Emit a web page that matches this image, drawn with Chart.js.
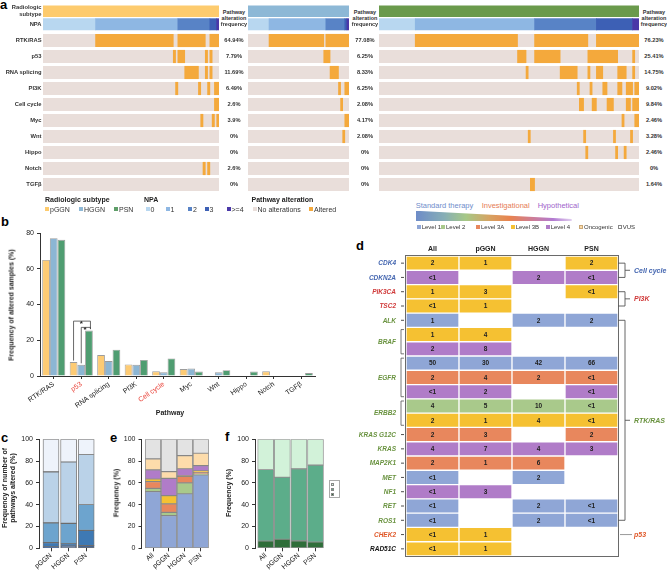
<!DOCTYPE html>
<html><head><meta charset="utf-8">
<script src="https://cdn.jsdelivr.net/npm/chart.js@4.4.1/dist/chart.umd.min.js"></script>
<style>
html,body{margin:0;padding:0;background:#fff}
body{width:667px;height:570px;position:relative;overflow:hidden;font-family:'Liberation Sans',Arial,Helvetica,sans-serif;color:#222}
canvas{position:absolute}
.t{position:absolute;white-space:nowrap;line-height:1}
.sq{position:absolute;box-sizing:border-box}
</style></head><body>
<script>
// ================= DATA =================
const pathways = ['RTK/RAS','p53','RNA splicing','PI3K','Cell cycle','Myc','Wnt','Hippo','Notch','TGFβ'];
const redPathways = ['p53','Cell cycle'];
const groups = ['pGGN','HGGN','PSN'];
const groupSize = [77,48,122];
// pathway alteration frequency (%)
const freqPGGN = [64.94,7.79,11.69,6.49,2.6,3.9,0,0,2.6,0];
const freqHGGN = [77.08,6.25,8.33,6.25,2.08,4.17,2.08,0,0,0];
const freqPSN  = [76.23,25.41,14.75,9.02,9.84,2.46,3.28,2.46,0,1.64];
// number of pathways altered (NPA) counts: 0,1,2,3,>=4
const npaLevels = ['0','1','2','3','>=4'];
const npaPGGN = [23,36,14,3,1];
const npaHGGN = [10,27,9,1,1];
const npaPSN  = [17,56,29,17,3];
// altered samples, runs [from,to) in oncoprint sample order, one list per pathway
const altPGGN = [
  [[23,57],[59,71],[73,77]],
  [[57,58],[59,62],[71,72],[73,74]],
  [[62,68],[71,72],[73,74]],
  [[58,59],[68,69],[72,73],[75,77]],
  [[75,77]],
  [[69,70],[74,75],[76,77]],
  [], [],
  [[70,71],[72,73]],
  []
];
const altHGGN = [
  [[10,36],[37,48]],
  [[36,39]],
  [[39,43]],
  [[43,44],[46,48]],
  [[44,45]],
  [[46,48]],
  [[45,46]],
  [], [], []
];
const altPSN = [
  [[17,65],[73,98],[102,122]],
  [[65,69],[73,85],[98,112],[119,120]],
  [[69,70],[85,93],[98,99],[102,105],[112,116],[119,120]],
  [[93,94],[99,100],[105,107],[112,114],[116,119],[120,122]],
  [[94,96],[100,102],[107,110],[116,118],[119,122]],
  [[114,115],[120,122]],
  [[70,71],[96,97],[110,111],[118,119]],
  [[97,98],[111,112],[115,116]],
  [],
  [[71,73]]
];
// significance brackets on p53: [groupA, groupB, bracket height %]
const sigCategory = 'p53';
const sigPairs = [[0,2,30.7],[1,2,27.2]];
// panel e: highest OncoKB level per sample (%)
const eCats = ['All','pGGN','HGGN','PSN'];
const eLevels = ['Level 1','Level 2','Level 3A','Level 3B','Level 4','Oncogenic','VUS'];
const eLevel1 = [52,30,50,67.3];
const eLevel2 = [3,3,10,0.9];
const eLevel3A = [6.2,7.7,6,1.5];
const eLevel3B = [2.4,7.6,0.5,1.3];
const eLevel4 = [8.3,15.9,6.5,4.8];
const eOncogenic = [10.1,6.1,12,11.4];
const eVUS = [18,29.7,15,12.8];
// panel f
const fCats = ['All','pGGN','HGGN','PSN'];
const fLow = [6.7,8.3,6.8,5.8];
const fMid = [65.6,56.9,66.1,70.5];
const fHigh = [27.7,34.8,27.1,23.7];
// panel d
const dCols = ['All','pGGN','HGGN','PSN'];
const dGene = ['CDK4','CDKN2A','PIK3CA','TSC2','ALK','BRAF','BRAF','EGFR','EGFR','EGFR','ERBB2','ERBB2','KRAS G12C','KRAS','MAP2K1','MET','NF1','RET','ROS1','CHEK2','RAD51C'];
const dPathway = ['Cell cycle','Cell cycle','PI3K','PI3K','RTK/RAS','RTK/RAS','RTK/RAS','RTK/RAS','RTK/RAS','RTK/RAS','RTK/RAS','RTK/RAS','RTK/RAS','RTK/RAS','RTK/RAS','RTK/RAS','RTK/RAS','RTK/RAS','RTK/RAS','p53',''];
const dLevel = ['3B','4','3B','3B','1','3B','4','1','3A','4','2','3B','3A','4','3A','1','4','1','1','3B','3B'];
const dAll  = ['2','<1','1','<1','1','1','2','50','2','<1','4','2','2','4','2','<1','<1','<1','<1','<1','<1'];
const dPGGN = ['1','','3','1','','4','8','30','4','2','5','1','3','7','1','','3','','','1','1'];
const dHGGN = ['','2','','','2','','','42','2','','10','4','','4','6','2','','2','2','',''];
const dPSN  = ['2','<1','<1','','2','','','66','<1','<1','<1','<1','2','3','','','','<1','<1','',''];

// ================= STYLE =================
const FONT = "'Liberation Sans', Arial, Helvetica, sans-serif";
const COL = {
  sub:['#FDCB6E','#8DB8D6','#6A9A4C'],
  subLeg:['#FDCB6E','#8DB8D6','#5E9E68'],
  npa:['#B8D7F0','#8EB7E3','#5883C6','#3D60B5','#4A38A8'],
  alt:'#F4A93C', none:'#E9DEDA',
  b:['#FDCB74','#8CB6D4','#4F9D71'],
  c:['#2B5390','#3E79B4','#6DA4CE','#BAD2E8','#EEF3FB'],
  lv:{'1':'#8FA6D6','2':'#A9C98B','3A':'#E8875D','3B':'#F5C132','4':'#B07CC8'},
  onc:'#FDDCAB', vus:'#E3E3E3',
  f:['#2F6E3A','#5CAD8A','#D2F2D9'],
  gene:{'Cell cycle':'#4466B0','PI3K':'#D03A3A','RTK/RAS':'#6A9340','p53':'#E05A2B','':'#111'}
};
Chart.defaults.font.family = FONT;
Chart.defaults.font.size = 7;
Chart.defaults.color = '#222';
Chart.defaults.animation = false;
Chart.defaults.responsive = false;
Chart.defaults.events = [];
Chart.defaults.plugins.legend.display = false;
Chart.defaults.plugins.tooltip.enabled = false;

function mkCanvas(x,y,w,h){const c=document.createElement('canvas');c.width=w;c.height=h;
  Object.assign(c.style,{left:x+'px',top:y+'px',width:w+'px',height:h+'px'});document.body.appendChild(c);return c;}
function T(txt,x,y,o={}){const d=document.createElement('div');d.className='t';d.textContent=txt;const s=d.style;
  s.left=x+'px';s.top=y+'px';s.fontSize=(o.s||7)+'px';if(o.b)s.fontWeight=o.b;if(o.c)s.color=o.c;if(o.i)s.fontStyle='italic';
  const ax=o.a==='r'?'-100%':o.a==='c'?'-50%':'0';
  s.transform=o.rot?`translate(-50%,-50%) rotate(${o.rot}deg)`:`translate(${ax},-50%)`;
  if(o.rot)s.textAlign='center';
  document.body.appendChild(d);return d;}
function S(x,y,w,h,col,border){const d=document.createElement('div');d.className='sq';
  Object.assign(d.style,{left:x+'px',top:y+'px',width:w+'px',height:h+'px',background:col,border:border?('0.7px solid '+border):'none'});
  document.body.appendChild(d);return d;}

// ================= PANEL LABELS =================
[['a',0,4],['b',1,221],['c',1,437],['d',356,245],['e',110,437],['f',225,436]].forEach(p=>T(p[0],p[1],p[2],{s:13,b:'bold',c:'#000'}));

// ================= PANEL A: oncoprints =================
const ROW_PX=16, FIRST_ROW=40.5, ONC_H=200;
const SUB_Y = 2-(FIRST_ROW-11.3)/ROW_PX, NPA_Y = 2-(FIRST_ROW-24.3)/ROW_PX;
const yMinOnc = 2-FIRST_ROW/ROW_PX, yMaxOnc = yMinOnc+ONC_H/ROW_PX;
function oncoprint(left,width,n,subColor,npaCounts,altRuns){
  const alt=[];altRuns.forEach((runs,i)=>runs.forEach(r=>alt.push({x:[r[0],r[1]],y:i+2})));
  const bg=pathways.map((_,i)=>({x:[0,n],y:i+2}));
  const npa=[],npaCol=[];let c=0;
  npaCounts.forEach((k,j)=>{if(k>0){npa.push({x:[c,c+k],y:NPA_Y});npaCol.push(COL.npa[j]);}c+=k;});
  new Chart(mkCanvas(left,0,width,ONC_H),{type:'bar',
    data:{datasets:[
      {data:alt,backgroundColor:COL.alt,maxBarThickness:12.5},
      {data:bg,backgroundColor:COL.none,maxBarThickness:12.5},
      {data:npa,backgroundColor:npaCol,maxBarThickness:11.3},
      {data:[{x:[0,n],y:SUB_Y}],backgroundColor:subColor,maxBarThickness:10.7}
    ]},
    options:{indexAxis:'y',layout:{padding:0},
      datasets:{bar:{grouped:false,borderWidth:0,barPercentage:1,categoryPercentage:1}},
      scales:{x:{type:'linear',min:0,max:n,display:false,offset:false},
        y:{type:'linear',min:yMinOnc,max:yMaxOnc,reverse:true,display:false,offset:false,bounds:'data',ticks:{maxTicksLimit:3}}}}});
}
oncoprint(43,176,groupSize[0],COL.sub[0],npaPGGN,altPGGN);
oncoprint(248,101,groupSize[1],COL.sub[1],npaHGGN,altHGGN);
oncoprint(379,260,groupSize[2],COL.sub[2],npaPSN,altPSN);
// row labels
const RL={a:'r',s:5.8,b:'bold',c:'#333'};
T('Radiologic',41.5,7.5,RL);
T('subtype',41.5,14.5,RL);
T('NPA',41.5,24.5,RL);
pathways.forEach((p,i)=>T(p,41.5,FIRST_ROW+ROW_PX*i,RL));
// frequency columns
[[234,freqPGGN],[365,freqHGGN],[654,freqPSN]].forEach(([x,f])=>{
  ['Pathway','alteration','frequency'].forEach((w,k)=>T(w,x,12.7+6*k,{a:'c',s:5.5,b:'bold',c:'#333'}));
  f.forEach((v,i)=>T(v+'%',x,FIRST_ROW+ROW_PX*i,{a:'c',s:5.7,b:'bold',c:'#333'}));
});
// legend a
T('Radiologic subtype',45,198.5,{s:7,b:'bold',c:'#222'});
T('NPA',144,198.5,{s:7,b:'bold',c:'#222'});
T('Pathway alteration',251.5,198.5,{s:7,b:'bold',c:'#222'});
function legItem(x,y,col,label,size,border){S(x,y-2,4,4,col,border);T(label,x+5,y,{s:size||7,c:'#333'});}
[[45,0],[79,1],[114,2]].forEach(([x,i])=>legItem(x,209,COL.subLeg[i],groups[i]));
[[145.5,0],[165.5,1],[188,2],[204.5,3],[226.5,4]].forEach(([x,i])=>legItem(x,209,COL.npa[i],npaLevels[i]));
legItem(252.5,209,COL.none,'No alterations');
legItem(309,209,COL.alt,'Altered');

// ================= PANEL B =================
const bFreq=[freqPGGN,freqHGGN,freqPSN];
const sigPlugin={id:'sig',afterDatasetsDraw(chart){
  const ctx=chart.ctx,y=chart.scales.y,ci=pathways.indexOf(sigCategory);
  ctx.save();ctx.strokeStyle='#444';ctx.lineWidth=0.8;ctx.fillStyle='#222';
  ctx.font="bold 8px "+FONT;ctx.textAlign='center';ctx.textBaseline='alphabetic';
  sigPairs.forEach(([g1,g2,h])=>{
    const a=chart.getDatasetMeta(g1).data[ci],b=chart.getDatasetMeta(g2).data[ci];
    const top=y.getPixelForValue(h);
    ctx.beginPath();ctx.moveTo(a.x,a.y-1.5);ctx.lineTo(a.x,top);ctx.lineTo(b.x+1.5,top);ctx.lineTo(b.x+1.5,b.y-1.5);ctx.stroke();
    ctx.fillText('*',(a.x+b.x)/2,top+4.5);
  });
  ctx.restore();}};
new Chart(mkCanvas(0,225,330,200),{type:'bar',
  data:{labels:pathways,datasets:groups.map((g,i)=>({label:g,data:bFreq[i],backgroundColor:COL.b[i],
    borderColor:'rgba(90,90,90,0.6)',borderWidth:0.9,categoryPercentage:0.84,barPercentage:1}))},
  options:{layout:{padding:{top:8,right:15,left:0,bottom:0}},
    scales:{
      x:{grid:{drawOnChartArea:false,offset:false,tickLength:3,color:'#333'},border:{color:'#333'},
        ticks:{font:{size:7},maxRotation:35,minRotation:35,padding:1,autoSkip:false,
          color:(c)=>redPathways.includes(pathways[c.index])?'#E8392F':'#222'},
        afterFit:s=>{s.height=49;}},
      y:{min:0,max:80,ticks:{stepSize:20,font:{size:7},padding:3},grid:{drawOnChartArea:false,tickLength:3,color:'#333'},
        border:{color:'#333'},afterFit:s=>{s.width=40;}}}},
  plugins:[sigPlugin]});
T('Frequency of altered samples (%)',11,305,{rot:-90,s:7,b:600,c:'#222'});
T('Pathway',170,412,{a:'c',s:7,b:600,c:'#222'});

// ================= PANELS C, E, F =================
function stackChart(cx,cy,w,h,yW,padR,c1,sp,barPx,cats,series,colors,border){
  const L=cx+yW,R=cx+w-padR;const xmin=1-(c1-L)/sp,xmax=xmin+(R-L)/sp;
  new Chart(mkCanvas(cx,cy,w,h),{type:'bar',
    data:{datasets:series.map((s,k)=>({data:s.map((v,i)=>({x:i+1,y:v})),backgroundColor:colors[k],
      borderColor:border,borderWidth:0.9,borderSkipped:false,barThickness:barPx}))},
    options:{layout:{padding:{top:9.3,right:padR,left:0,bottom:0}},
      scales:{
        x:{type:'linear',stacked:true,min:xmin,max:xmax,bounds:'data',offset:false,
          afterBuildTicks:s=>{s.ticks=cats.map((_,i)=>({value:i+1}));},
          ticks:{callback:(v,i)=>cats[i],maxRotation:40,minRotation:40,autoSkip:false,padding:0,font:{size:7}},
          grid:{drawOnChartArea:false,offset:false,tickLength:3,color:'#333'},border:{display:false},afterFit:s=>{s.height=21.7;}},
        y:{stacked:true,min:0,max:100,ticks:{stepSize:20,font:{size:7},padding:3},
          grid:{drawOnChartArea:false,tickLength:3,color:'#333'},border:{color:'#333'},afterFit:s=>{s.width=yW;}}}}});
}
// c: NPA distribution (%) from counts, stacked >=4 at bottom ... 0 on top
const npaAll=[npaPGGN,npaHGGN,npaPSN];
const cSeries=[4,3,2,1,0].map(l=>npaAll.map((cnt,g)=>cnt[l]/groupSize[g]*100));
stackChart(0,430,100,140,39,4,51,17.6,16,groups,cSeries,COL.c,'rgba(95,95,95,0.85)');
T('Frequency of number of',4,488,{rot:-90,s:7,b:600,c:'#222'});
T('pathways altered (%)',11.5,488,{rot:-90,s:7,b:600,c:'#222'});
// e
stackChart(100,430,120,140,41.5,8,153,15.95,15.5,eCats,
  [eLevel1,eLevel2,eLevel3A,eLevel3B,eLevel4,eOncogenic,eVUS],
  [COL.lv['1'],COL.lv['2'],COL.lv['3A'],COL.lv['3B'],COL.lv['4'],COL.onc,COL.vus],'rgba(120,120,120,0.8)');
T('Frequency (%)',116,493,{rot:-90,s:7,b:600,c:'#222'});
// f
stackChart(215,430,115,140,40,5,265.7,16.6,16,fCats,[fLow,fMid,fHigh],COL.f,'rgba(120,120,120,0.8)');
T('Frequency (%)',228,493,{rot:-90,s:7,b:600,c:'#222'});
// f legend (tiny)
S(329,480,11,18,'#fff','#aaa');
S(331,483,2.5,2.5,COL.f[2],'#888');S(331,488,2.5,2.5,COL.f[1],'#888');S(331,493,2.5,2.5,COL.f[0],'#888');

// ================= PANEL D =================
const dColsData=[dAll,dPGGN,dHGGN,dPSN];
const dCells=[];
dGene.forEach((g,r)=>dColsData.forEach((col,c)=>{if(col[r]!=='')dCells.push({x:[c,c+1],y:r,t:col[r],lv:dLevel[r]});}));
function runs(arr){const out=[];arr.forEach((v,i)=>{if(out.length&&out[out.length-1].v===v)out[out.length-1].e=i;else out.push({v,s:i,e:i});});return out;}
const dPlugin={id:'dtab',afterDatasetsDraw(chart){
  const {ctx,chartArea:a,scales:{x,y}}=chart;ctx.save();
  ctx.strokeStyle='#6a6a6a';ctx.lineWidth=1;ctx.strokeRect(Math.round(a.left)-0.5,Math.round(a.top)-0.5,Math.round(a.right-a.left)+1,Math.round(a.bottom-a.top)+1);
  ctx.fillStyle='#222';ctx.textAlign='center';ctx.textBaseline='middle';ctx.font="bold 6.5px "+FONT;
  chart.getDatasetMeta(0).data.forEach((el,i)=>{const p=el.getProps(['x','base','y']);ctx.fillText(dCells[i].t,(p.x+p.base)/2,p.y+0.5);});
  ctx.font="bold 7px "+FONT;dCols.forEach((c,i)=>ctx.fillText(c,x.getPixelForValue(i+0.5),a.top-6.5));
  // gene labels
  runs(dGene).forEach(g=>{
    const y0=y.getPixelForValue(g.s),y1=y.getPixelForValue(g.e),yc=(y0+y1)/2;
    ctx.font="italic bold 6.5px "+FONT;ctx.textAlign='right';ctx.fillStyle=COL.gene[dPathway[g.s]];
    ctx.fillText(g.v,a.left-10,yc+0.5);
    ctx.strokeStyle='#222';ctx.lineWidth=0.8;ctx.beginPath();
    if(g.s===g.e){ctx.moveTo(a.left-5,yc);ctx.lineTo(a.left-2,yc);}
    else{const xb=a.left-5;ctx.strokeStyle='#555';ctx.moveTo(xb+3,y0-5);ctx.lineTo(xb,y0-5);ctx.lineTo(xb,y1+5);ctx.lineTo(xb+3,y1+5);}
    ctx.stroke();
  });
  // pathway brackets
  runs(dPathway).filter(p=>p.v!=='').forEach(p=>{
    const y0=y.getPixelForValue(p.s),y1=y.getPixelForValue(p.e),ym=(y0+y1)/2,bx=a.right+7;
    ctx.beginPath();
    if(p.s===p.e){ctx.strokeStyle='#999';ctx.lineWidth=1;ctx.moveTo(a.right+2,ym);ctx.lineTo(a.right+14,ym);}
    else{ctx.strokeStyle='#555';ctx.lineWidth=0.9;ctx.moveTo(a.right,y0);ctx.lineTo(bx,y0);ctx.lineTo(bx,y1);ctx.lineTo(a.right,y1);
      ctx.moveTo(bx,ym);ctx.lineTo(bx+5,ym);}
    ctx.stroke();
    ctx.font="italic 600 7px "+FONT;ctx.textAlign='left';ctx.fillStyle=COL.gene[p.v];
    ctx.fillText(p.v,a.right+16,ym+0.5);
  });
  ctx.restore();}};
new Chart(mkCanvas(340,238,327,332),{type:'bar',
  data:{datasets:[{data:dCells,backgroundColor:dCells.map(c=>COL.lv[c.lv]),borderColor:'#fff',borderWidth:1,borderSkipped:false}]},
  options:{indexAxis:'y',layout:{padding:{left:66,right:49,top:18,bottom:14}},
    datasets:{bar:{grouped:false,barPercentage:1,categoryPercentage:1}},
    scales:{x:{type:'linear',min:0,max:dCols.length,display:false,offset:false},
      y:{type:'linear',min:-0.5,max:dGene.length-0.5,reverse:true,display:false,offset:false,bounds:'data',ticks:{maxTicksLimit:3}}}},
  plugins:[dPlugin]});
// d legend
T('Standard therapy',415.7,206,{s:7.5,c:'#6F8ECB'});
T('Investigational',481.7,206,{s:7.5,c:'#E57C55'});
T('Hypothetical',537.7,206,{s:7.5,c:'#A064CB'});
const wedge=document.createElement('div');
Object.assign(wedge.style,{position:'absolute',left:'415.7px',top:'210.7px',width:'156px',height:'10.3px',
  background:'linear-gradient(to right,#6E8CC8 0%,#86AEB6 18%,#A6C886 32%,#D6A362 47%,#E8834F 60%,#CF7D93 74%,#B27BD2 88%,#E2D0F0 100%)',
  clipPath:'polygon(0 0,100% 80%,100% 100%,0 100%)'});
document.body.appendChild(wedge);
[[416.7,COL.lv['1'],'Level 1'],[441,COL.lv['2'],'Level 2'],[476,COL.lv['3A'],'Level 3A'],[510.7,COL.lv['3B'],'Level 3B'],[545.7,COL.lv['4'],'Level 4']]
  .forEach(([x,c,l])=>legItem(x,226.5,c,l,6));
legItem(579,226.5,COL.onc,'Oncogenic',6,'#c9a877');
legItem(617.7,226.5,'#fff','VUS',6,'#888');
</script>
</body></html>
